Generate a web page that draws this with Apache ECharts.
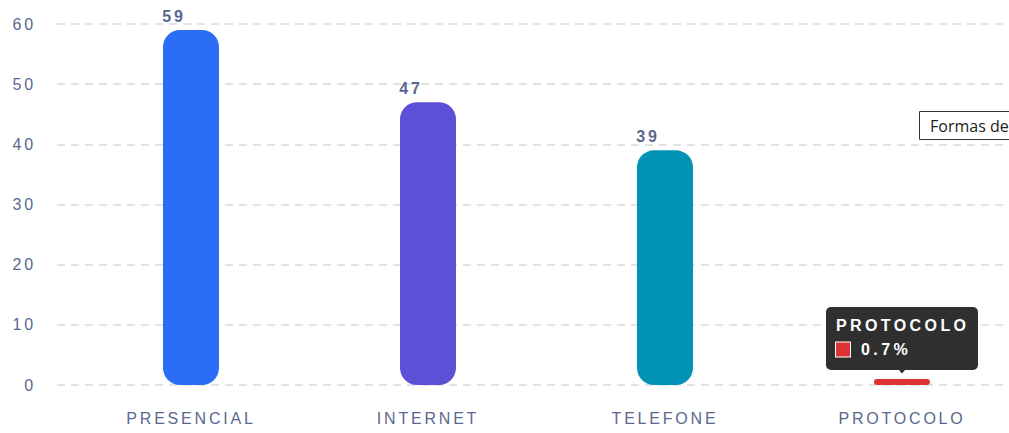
<!DOCTYPE html>
<html><head><meta charset="utf-8">
<script src="https://cdn.jsdelivr.net/npm/echarts@6/dist/echarts.min.js"></script>
<style>
html,body{margin:0;padding:0;background:#fff;overflow:hidden;width:1009px;height:433px}
#c{width:1040px;height:433px}
#c svg text{letter-spacing:2.8px}
#c svg text[fill="#fff"]{letter-spacing:3.4px}
#c svg text[fill="#222"]{letter-spacing:0}
</style></head><body>
<div id="c"></div>
<script>
const categories = ['PRESENCIAL', 'INTERNET', 'TELEFONE', 'PROTOCOLO'];
const values = [59, 47, 39, 1];
const barColors = ['#2C6DF8', '#5B50D6', '#0193B6', '#DD3333'];
const yTicks = [0, 10, 20, 30, 40, 50, 60];
const highlighted = 'PROTOCOLO';
const titleText = 'Formas de atendimento';

const total = values.reduce((a, b) => a + b, 0);
const labelColor = '#5A6890';
const chart = echarts.init(document.getElementById('c'), null, {renderer: 'svg'});
const hiIdx = categories.indexOf(highlighted);

chart.setOption({
  animation: false,
  title: {
    text: titleText, left: 919, top: 111,
    padding: [5, 10, 5, 11],
    borderColor: '#333', borderWidth: 1, backgroundColor: '#fff',
    textStyle: {fontFamily: 'Open Sans', fontSize: 16, lineHeight: 19, fontWeight: 'normal', color: '#222'}
  },
  grid: [
    {left: 57, right: 0, top: 24, bottom: 48},
    {left: 72.5, width: 948, top: 24, bottom: 48}
  ],
  xAxis: [
    {type: 'category', gridIndex: 0, data: categories, show: false},
    {type: 'category', gridIndex: 1, data: categories,
     axisLine: {show: false}, axisTick: {show: false},
     axisLabel: {margin: 25, color: labelColor, fontSize: 16, fontFamily: 'Liberation Sans'}}
  ],
  yAxis: [
    {type: 'value', gridIndex: 0, min: yTicks[0], max: yTicks[yTicks.length - 1], interval: 10,
     axisLine: {show: false}, axisTick: {show: false},
     axisLabel: {margin: 21, color: labelColor, fontSize: 16, fontFamily: 'Liberation Sans'},
     splitLine: {lineStyle: {color: '#DADADA', width: 1.5, type: [8, 6]}}},
    {type: 'value', gridIndex: 1, min: yTicks[0], max: yTicks[yTicks.length - 1], interval: 10, show: false}
  ],
  series: [
    {
      type: 'bar', xAxisIndex: 1, yAxisIndex: 1, barWidth: 56,
      data: values.map((v, i) => ({value: v, itemStyle: {color: barColors[i]}})),
      itemStyle: {borderRadius: 17},
      label: {show: true, position: 'top', distance: 6, offset: [-17, 0],
              color: labelColor, fontSize: 16, fontWeight: 'bold', fontFamily: 'Liberation Sans'}
    },
    {
      type: 'bar', xAxisIndex: 1, yAxisIndex: 1, barWidth: 56, barGap: '-100%', z: 5,
      data: values.map((v, i) => i === hiIdx ? v : '-'),
      itemStyle: {color: 'rgba(0,0,0,0)'},
      label: {
        show: true, position: 'top', distance: 9,
        backgroundColor: '#2F2F2F', borderRadius: 5, padding: [8, 10, 8, 10], width: 132,
        align: 'center',
        formatter: p => '{t|' + categories[p.dataIndex] + '}\n{m|}{v|' + (values[p.dataIndex] / total * 100).toFixed(1) + '%}',
        rich: {
          t: {color: '#fff', fontSize: 16, fontWeight: 'bold', fontFamily: 'Liberation Sans', lineHeight: 22, align: 'left', width: 132},
          m: {width: 14, height: 14, backgroundColor: barColors[hiIdx], borderColor: '#fff', borderWidth: 1, align: 'left'},
          v: {color: '#fff', fontSize: 16, fontWeight: 'bold', fontFamily: 'Liberation Sans', lineHeight: 25, padding: [0, 0, 0, 11], align: 'left'}
        }
      },
      markPoint: {
        symbol: 'triangle', symbolRotate: 180, symbolSize: [12, 7], symbolOffset: [0, -9],
        itemStyle: {color: '#2F2F2F'}, label: {show: false},
        data: [{coord: [highlighted, values[hiIdx]]}]
      }
    }
  ]
});
</script>
</body></html>
